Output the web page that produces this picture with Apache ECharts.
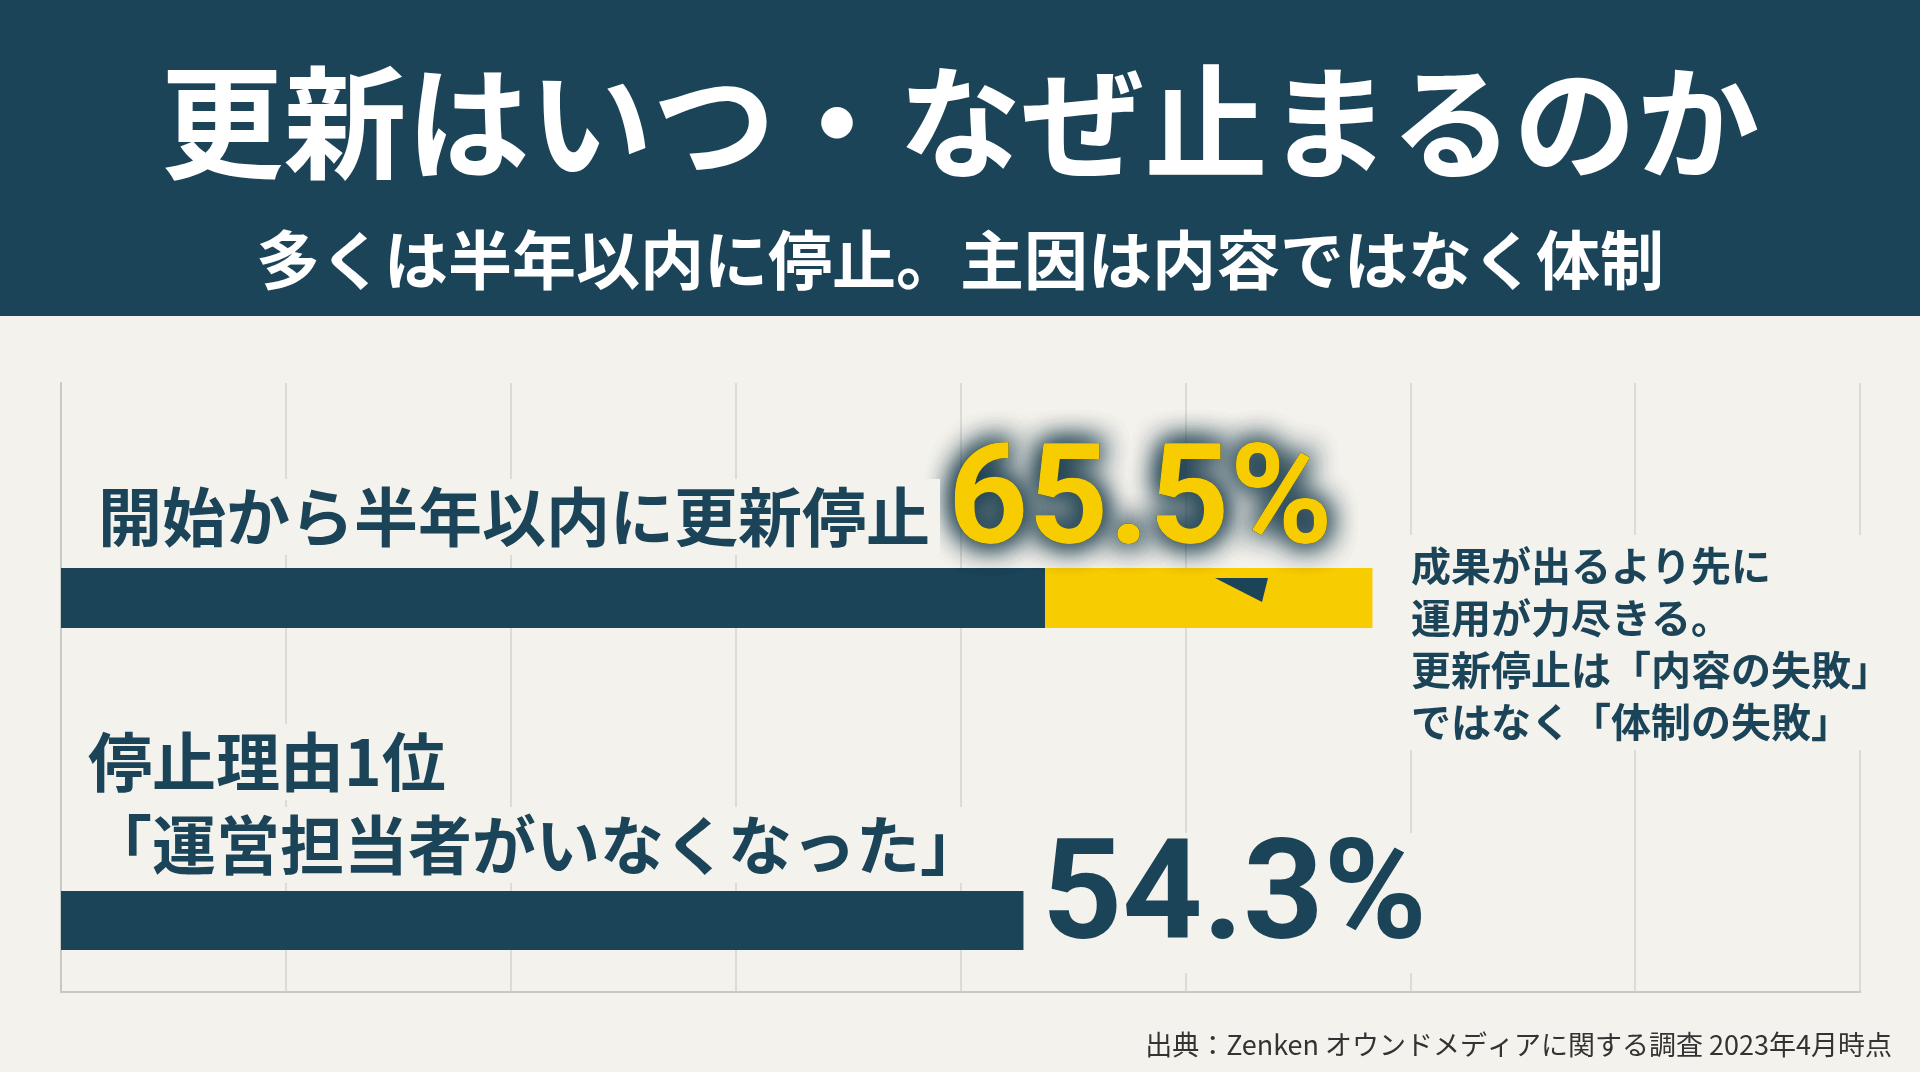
<!DOCTYPE html>
<html><head><meta charset="utf-8">
<script src="https://cdn.jsdelivr.net/npm/echarts@6/dist/echarts.min.js"></script>
<style>html,body{margin:0;padding:0;background:#f4f2ec}#c{width:1920px;height:1072px}</style>
</head><body><div id="c"></div>
<script>
const title = '更新はいつ・なぜ止まるのか';
const subtitle = '多くは半年以内に停止。主因は内容ではなく体制';
const categories = ['開始から半年以内に更新停止', '停止理由1位'];
const percentValues = [65.5, 54.3];
// bar extents on a 0-100 axis
const barBase = [54.7, 53.5];
const barHighlight = [18.2, 0];
const xTicks = [0, 12.5, 25, 37.5, 50, 62.5, 75, 87.5, 100];
const noteLines = ['成果が出るより先に', '運用が力尽きる。', '更新停止は「内容の失敗」', 'ではなく「体制の失敗」'];
const source = '出典：Zenken オウンドメディアに関する調査 2023年4月時点';

const DARK = '#1c4458', YEL = '#f7cc00', BG = '#f4f2ec';
const FONT = '"Noto Sans CJK JP", "Noto Sans", sans-serif';
const NUMFONT = '"Liberation Sans Narrow","Roboto","Noto Sans CJK JP",sans-serif';
const chart = echarts.init(document.getElementById('c'));
const gridsPos = [{top:383,height:609},{top:568,height:60},{top:891,height:59}];
const grid = gridsPos.map(g=>({left:61,right:60,top:g.top,height:g.height}));
const xAxis = grid.map((g,i)=>({gridIndex:i,type:'value',min:xTicks[0],max:xTicks[xTicks.length-1],interval:12.5,
  axisLabel:{show:false},axisTick:{show:false},
  axisLine:{show:i===0,lineStyle:{color:'#c9c9c4',width:2}},
  splitLine:{show:i===0,lineStyle:{color:'#dcdcd6',width:2}}}));
const yAxis = grid.map((g,i)=>({gridIndex:i,type:'category',data:[i===0?'':categories[i-1]],
  axisLabel:{show:false},axisTick:{show:false},axisLine:{show:i===0,lineStyle:{color:'#c9c9c4',width:2}}}));
const series = [
  {type:'bar',xAxisIndex:1,yAxisIndex:1,stack:'a',barWidth:'100%',data:[barBase[0]],itemStyle:{color:DARK},z:3},
  {type:'bar',xAxisIndex:1,yAxisIndex:1,stack:'a',barWidth:'100%',data:[barHighlight[0]],itemStyle:{color:YEL},z:3},
  {type:'bar',xAxisIndex:2,yAxisIndex:2,barWidth:'100%',data:[barBase[1]],itemStyle:{color:DARK},z:3}
];
const txt = (x,y,t,o)=>({type:'text',x,y,z:10,style:Object.assign({text:t,font:'bold 64px '+FONT,fill:DARK,textVerticalAlign:'middle'},o||{})});
const glowText = percentValues[0].toFixed(1)+'%';
const glowFont = 'bold 140px '+NUMFONT;
const graphic = [
  {type:'rect',shape:{x:0,y:0,width:1920,height:316},style:{fill:DARK},z:1},
  txt(960,122,title,{font:'bold 123px '+FONT,fill:'#fff',textAlign:'center'}),
  txt(960,260,subtitle,{font:'bold 64px '+FONT,fill:'#fff',textAlign:'center'}),
  txt(98,517,categories[0],{backgroundColor:BG,padding:[6,10,6,0]}),
  {type:'polygon',z:9,shape:{points:[[1215,578],[1268,578],[1262,602]]},style:{fill:DARK}},
  ...[0,1,2].map(k=>({type:'text',x:948,y:508,z:9,style:{text:glowText,font:glowFont,fill:DARK,textVerticalAlign:'middle',
    textShadowBlur:28,textShadowColor:'rgba(20,55,72,1)',opacity:0.9}})),
  txt(948,508,glowText,{font:glowFont,fill:YEL}),
  txt(88,762,categories[1],{backgroundColor:BG,padding:[6,10,6,0]}),
  txt(88,845,'「運営担当者がいなくなった」',{backgroundColor:BG,padding:[6,10,6,0]}),
  txt(1036,903,percentValues[1].toFixed(1)+'%',{font:'bold 140px '+NUMFONT,fill:DARK,backgroundColor:BG,padding:[0,6,0,6]}),
  {type:'rect',z:8,shape:{x:1400,y:535,width:490,height:215},style:{fill:BG}},
  ...noteLines.map((l,i)=>txt(1411,566+i*52,l,{font:'bold 40px '+FONT})),
  txt(1892,1045,source,{font:'27px '+FONT,fill:'#333',textAlign:'right'})
];
chart.setOption({backgroundColor:BG,animation:false,grid,xAxis,yAxis,series,graphic});
</script></body></html>
